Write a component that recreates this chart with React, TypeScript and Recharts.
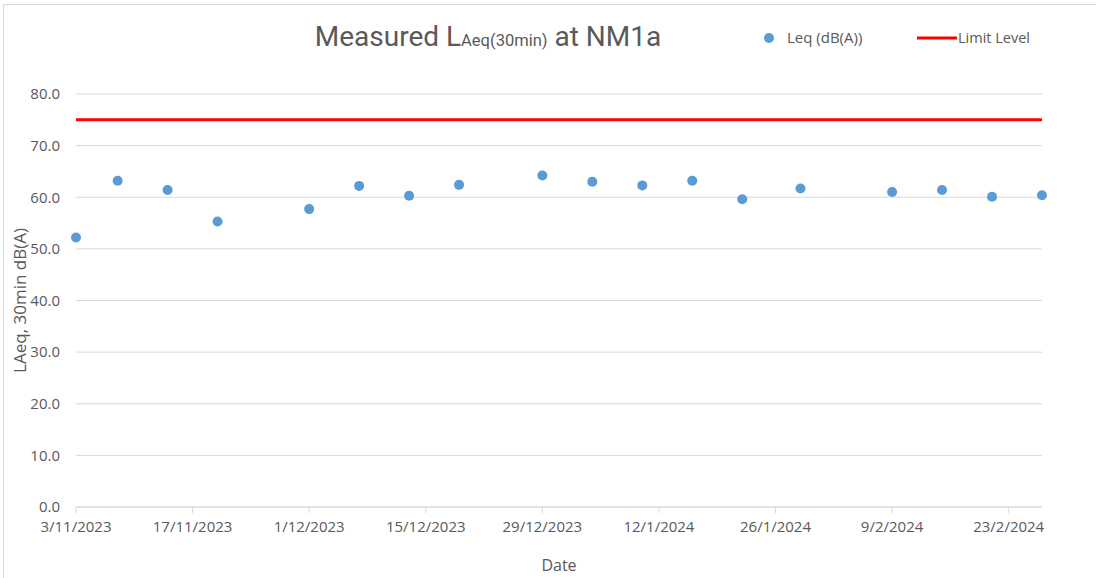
import React from "react";
import {
  ScatterChart,
  Scatter,
  XAxis,
  YAxis,
  CartesianGrid,
  ReferenceLine,
} from "recharts";

// ---- data ----
const measureDates = [
  "2023-11-03", "2023-11-08", "2023-11-14", "2023-11-20", "2023-12-01",
  "2023-12-07", "2023-12-13", "2023-12-19", "2023-12-29", "2024-01-04",
  "2024-01-10", "2024-01-16", "2024-01-22", "2024-01-29", "2024-02-09",
  "2024-02-15", "2024-02-21", "2024-02-27",
];
const leqValues = [
  52.2, 63.2, 61.4, 55.3, 57.7, 62.2, 60.3, 62.4, 64.2, 63.0,
  62.3, 63.2, 59.6, 61.7, 61.0, 61.4, 60.1, 60.4,
];
const limitLevel = 75;
const xTickDates = [
  "2023-11-03", "2023-11-17", "2023-12-01", "2023-12-15", "2023-12-29",
  "2024-01-12", "2024-01-26", "2024-02-09", "2024-02-23",
];
const xDomainDates = ["2023-11-03", "2024-02-27"];
const yTicks = [0, 10, 20, 30, 40, 50, 60, 70, 80];

const toTs = (s: string) => {
  const [y, m, d] = s.split("-").map(Number);
  return Date.UTC(y, m - 1, d);
};
const fmtDate = (ts: number) => {
  const d = new Date(ts);
  return `${d.getUTCDate()}/${d.getUTCMonth() + 1}/${d.getUTCFullYear()}`;
};

const leqData = measureDates.map((d, i) => ({ date: toTs(d), leq: leqValues[i] }));
const xTicks = xTickDates.map(toTs);
const xDomain = xDomainDates.map(toTs);

const FONT = "'Open Sans', 'DejaVu Sans', sans-serif";
const TEXT = "#595959";
const BLUE = "#5B9BD5";

const Dot = (props: any) => {
  const { cx, cy } = props;
  if (cx == null || cy == null) return null;
  return <circle cx={cx} cy={cy} r={5} fill={BLUE} />;
};

export default function App() {
  return (
    <div
      style={{
        position: "fixed",
        left: 0,
        top: 0,
        width: 1096,
        height: 578,
        overflow: "hidden",
        background: "#fff",
        fontFamily: FONT,
      }}
    >
      <div
        style={{
          position: "absolute",
          left: 3,
          top: 4,
          width: 1100,
          height: 600,
          border: "1px solid #d9d9d9",
        }}
      />
      <ScatterChart
        width={1096}
        height={578}
        margin={{ top: 94, right: 54, bottom: 15, left: 16 }}
        style={{ position: "absolute", left: 0, top: 0 }}
      >
        <CartesianGrid vertical={false} stroke="#d9d9d9" strokeWidth={1} />
        <XAxis
          type="number"
          dataKey="date"
          domain={xDomain}
          ticks={xTicks}
          tickFormatter={fmtDate}
          interval={0}
          height={56}
          stroke="#d9d9d9"
          tickSize={6}
          tickMargin={8}
          tick={{ fill: TEXT, fontSize: 15, fontFamily: FONT }}
          label={{
            content: (p: any) => {
              const vb = p.viewBox;
              return (
                <text
                  x={vb.x + vb.width / 2}
                  y={571}
                  textAnchor="middle"
                  fill={TEXT}
                  fontSize={16}
                  fontFamily={FONT}
                >
                  Date
                </text>
              );
            },
          }}
        />
        <YAxis
          type="number"
          dataKey="leq"
          domain={[0, 80]}
          ticks={yTicks}
          interval={0}
          tickFormatter={(v: number) => v.toFixed(1)}
          width={60}
          axisLine={false}
          tickLine={false}
          tickMargin={10}
          tick={{ fill: TEXT, fontSize: 15, fontFamily: FONT }}
          label={{
            content: (p: any) => {
              const vb = p.viewBox;
              const cy = vb.y + vb.height / 2;
              return (
                <text
                  x={26}
                  y={cy}
                  transform={`rotate(-90 26 ${cy})`}
                  textAnchor="middle"
                  fill={TEXT}
                  fontSize={17}
                  fontFamily={FONT}
                >
                  LAeq, 30min dB(A)
                </text>
              );
            },
          }}
        />
        <ReferenceLine y={limitLevel} stroke="#FF0000" strokeWidth={3} ifOverflow="extendDomain" />
        <Scatter
          name="Leq (dB(A))"
          data={leqData}
          fill={BLUE}
          shape={Dot}
          isAnimationActive={false}
        />
      </ScatterChart>
      <svg
        width={1096}
        height={70}
        style={{ position: "absolute", left: 0, top: 0, pointerEvents: "none" }}
      >
        <text
          x={488}
          y={46}
          textAnchor="middle"
          fill={TEXT}
          fontFamily="Roboto, 'Open Sans', sans-serif"
          fontSize={28}
        >
          <tspan>Measured L</tspan>
          <tspan fontSize={16.5}>Aeq(30min)</tspan>
          <tspan> at NM1a</tspan>
        </text>
        <circle cx={769} cy={38} r={5} fill={BLUE} />
        <text x={787} y={43} fill={TEXT} fontFamily={FONT} fontSize={15}>
          Leq (dB(A))
        </text>
        <line x1={917} y1={38} x2={957} y2={38} stroke="#FF0000" strokeWidth={3} />
        <text x={958} y={43} fill={TEXT} fontFamily={FONT} fontSize={14.5}>
          Limit Level
        </text>
      </svg>
    </div>
  );
}
